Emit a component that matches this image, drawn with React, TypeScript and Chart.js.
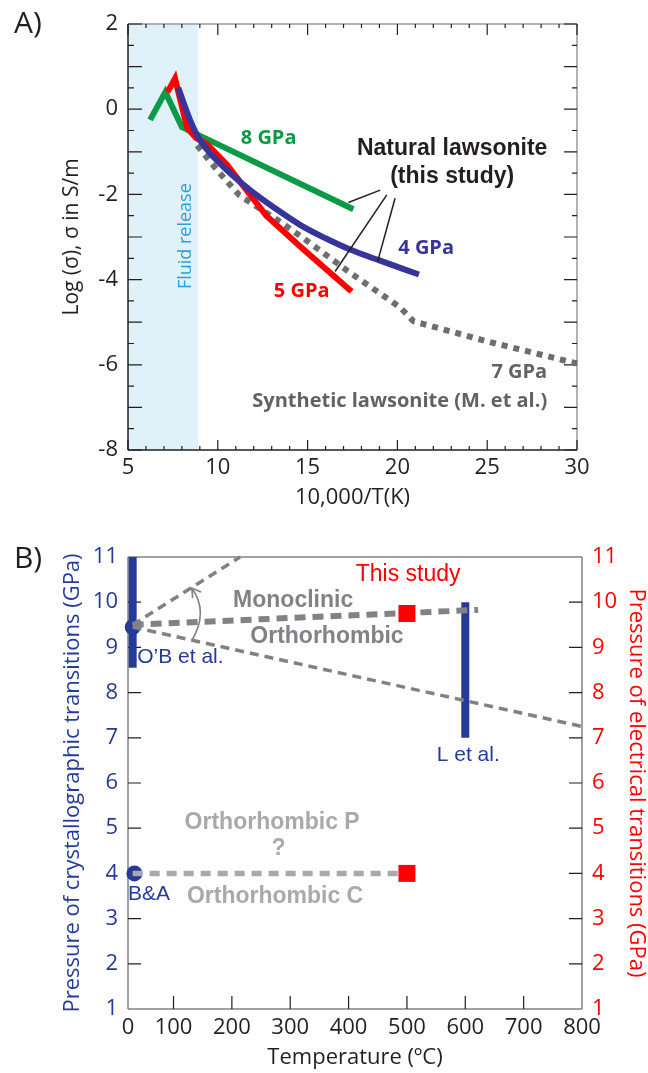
import React, { useEffect, useRef } from 'react';
import { Chart, registerables } from 'chart.js';

Chart.register(...registerables);

// ---------------- Panel A data ----------------
const A_X_LABELS = [5, 10, 15, 20, 25, 30];
const A_Y_LABELS = [2, 0, -2, -4, -6, -8];
const FLUID_RELEASE_X = [5, 8.9];

const GPA8_X = [6.23, 7.08, 8.0, 17.55];
const GPA8_Y = [-0.25, 0.4, -0.42, -2.35];

const GPA5_X = [7.2, 7.62, 8.3, 8.8, 9.4, 10.5, 11.6, 12.7, 14.6, 17.45];
const GPA5_Y = [0.4, 0.72, -0.45, -0.68, -0.82, -1.3, -1.9, -2.5, -3.23, -4.28];

const GPA4_X = [7.8, 8.45, 9.0, 10.3, 11.8, 13.1, 14.6, 16.0, 17.4, 19.0, 21.2];
const GPA4_Y = [0.5, -0.25, -0.72, -1.35, -1.9, -2.3, -2.72, -3.03, -3.3, -3.55, -3.88];

const GPA7_X = [8.85, 10.0, 11.2, 13.5, 15.0, 17.4, 20.15, 20.9, 25.0, 30.0];
const GPA7_Y = [-0.85, -1.45, -2.02, -2.65, -3.1, -3.85, -4.65, -4.98, -5.45, -5.97];

const LEADER_START_X = [19.04, 19.41, 19.87];
const LEADER_START_Y = [-1.9, -2.01, -2.09];
const LEADER_END_X = [17.27, 16.53, 18.91];
const LEADER_END_Y = [-2.19, -3.81, -3.56];

// ---------------- Panel B data ----------------
const B_T_MIN = 22;
const B_T_MAX = 800;
const B_X_LABELS = [0, 100, 200, 300, 400, 500, 600, 700, 800];
const B_Y_LABELS = [1, 2, 3, 4, 5, 6, 7, 8, 9, 10, 11];

const OB_T = [30, 30];
const OB_P = [8.55, 11];
const OB_POINT_T = [30];
const OB_POINT_P = [9.45];

const L_T = [600, 600];
const L_P = [7, 10];

const BA_POINT_T = [33];
const BA_POINT_P = [4.0];

const STUDY_T = [500, 500];
const STUDY_P = [9.75, 4.0];

const UPPER_T = [30, 214];
const UPPER_P = [9.5, 11];
const MONO_T = [30, 622];
const MONO_P = [9.5, 9.83];
const LOWER_T = [30, 800];
const LOWER_P = [9.45, 7.25];
const BA_LINE_T = [30, 500];
const BA_LINE_P = [4.0, 4.0];

const ARC_T = [131.5, 146, 131.5];
const ARC_P = [9.16, 9.76, 10.31];

// ---------------- styles ----------------
const INK = '#231f20';
const A_GREEN = '#0c9a47';
const A_RED = '#ff0000';
const A_BLUE = '#37349a';
const A_GRAY = '#6d6e71';
const A_LABEL_GRAY = '#616265';
const FLUID_BAND = '#dff2fa';
const FLUID_TEXT = '#2a9fd8';
const B_BLUE = '#263b95';
const B_RED = '#ff0000';
const B_GRAY = '#808285';
const B_LIGHT = '#a7a9ac';
const FRAME_GRAY = '#9a9a9a';

const SANS = '"Open Sans", sans-serif';
const HELV = '"Liberation Sans", Arial, sans-serif';

type Label = { text: string; x: number; y: number; font: string; color: string; align?: CanvasTextAlign; rotate?: number };

const A_TEXTS: Label[] = [
  { text: '8 GPa', x: 12.83, y: -0.68, font: `bold 20px ${SANS}`, color: A_GREEN },
  { text: 'Natural lawsonite', x: 23.05, y: -0.92, font: `bold 23px ${HELV}`, color: INK },
  { text: '(this study)', x: 23.05, y: -1.59, font: `bold 23px ${HELV}`, color: INK },
  { text: '4 GPa', x: 21.6, y: -3.26, font: `bold 20px ${SANS}`, color: A_BLUE },
  { text: '5 GPa', x: 14.67, y: -4.28, font: `bold 20px ${SANS}`, color: A_RED },
  { text: '7 GPa', x: 28.34, y: -6.18, font: `bold 20px ${SANS}`, color: A_LABEL_GRAY, align: 'right' },
  { text: 'Synthetic lawsonite (M. et al.)', x: 28.34, y: -6.85, font: `bold 20px ${SANS}`, color: A_LABEL_GRAY, align: 'right' },
  { text: 'Fluid release', x: 8.23, y: -2.98, font: `18px ${SANS}`, color: FLUID_TEXT, rotate: -Math.PI / 2 },
];

const B_TEXTS: Label[] = [
  { text: 'This study', x: 502, y: 10.6, font: `23px ${HELV}`, color: B_RED },
  { text: 'Monoclinic', x: 305, y: 10.03, font: `bold 23px ${HELV}`, color: B_GRAY },
  { text: 'Orthorhombic', x: 363, y: 9.23, font: `bold 23px ${HELV}`, color: B_GRAY },
  { text: 'O\u2019B et al.', x: 37.8, y: 8.79, font: `21px ${HELV}`, color: B_BLUE, align: 'left' },
  { text: 'L et al.', x: 605, y: 6.62, font: `21px ${HELV}`, color: B_BLUE },
  { text: 'B&A', x: 58, y: 3.55, font: `21px ${HELV}`, color: B_BLUE },
  { text: 'Orthorhombic P', x: 269, y: 5.12, font: `bold 23px ${HELV}`, color: B_LIGHT },
  { text: '?', x: 280, y: 4.55, font: `bold 23px ${HELV}`, color: B_LIGHT },
  { text: 'Orthorhombic C', x: 274, y: 3.49, font: `bold 23px ${HELV}`, color: B_LIGHT },
];

function steps(a: number, b: number, s: number): number[] {
  const out: number[] = [];
  for (let v = a; v <= b + 1e-9; v += s) out.push(Math.round(v * 1000) / 1000);
  return out;
}

function pts(xs: number[], ys: number[]) {
  return xs.map((x, i) => ({ x, y: ys[i] }));
}

function lineDs(label: string, xs: number[], ys: number[], color: string, width: number, dash: number[] = [], extra: any = {}) {
  return {
    label,
    data: pts(xs, ys),
    borderColor: color,
    backgroundColor: color,
    borderWidth: width,
    borderDash: dash,
    borderCapStyle: 'butt',
    borderJoinStyle: 'miter',
    pointRadius: 0,
    pointHoverRadius: 0,
    tension: 0,
    fill: false,
    clip: false,
    ...extra,
  };
}

function drawTicks(chart: any, axisId: string, side: string, values: number[], len: number, color: string, width: number) {
  const { ctx, chartArea: ca } = chart;
  const s = chart.scales[axisId];
  ctx.save();
  ctx.strokeStyle = color;
  ctx.lineWidth = width;
  ctx.beginPath();
  values.forEach((v) => {
    const p = s.getPixelForValue(v);
    if (side === 'bottom') { ctx.moveTo(p, ca.bottom); ctx.lineTo(p, ca.bottom - len); }
    if (side === 'top') { ctx.moveTo(p, ca.top); ctx.lineTo(p, ca.top + len); }
    if (side === 'left') { ctx.moveTo(ca.left, p); ctx.lineTo(ca.left + len, p); }
    if (side === 'right') { ctx.moveTo(ca.right, p); ctx.lineTo(ca.right - len, p); }
  });
  ctx.stroke();
  ctx.restore();
}

function drawFrame(chart: any, c: { top: string; right: string; bottom: string; left: string }, w: number) {
  const { ctx, chartArea: ca } = chart;
  ctx.save();
  ctx.lineWidth = w;
  const seg = (col: string, x1: number, y1: number, x2: number, y2: number) => {
    ctx.strokeStyle = col;
    ctx.beginPath();
    ctx.moveTo(x1, y1);
    ctx.lineTo(x2, y2);
    ctx.stroke();
  };
  seg(c.top, ca.left, ca.top, ca.right, ca.top);
  seg(c.right, ca.right, ca.top, ca.right, ca.bottom);
  seg(c.bottom, ca.left, ca.bottom, ca.right, ca.bottom);
  seg(c.left, ca.left, ca.top, ca.left, ca.bottom);
  ctx.restore();
}

function drawLabels(chart: any, xId: string, yId: string, labels: Label[]) {
  const { ctx } = chart;
  labels.forEach((l) => {
    const x = chart.scales[xId].getPixelForValue(l.x);
    const y = chart.scales[yId].getPixelForValue(l.y);
    ctx.save();
    ctx.translate(x, y);
    if (l.rotate) ctx.rotate(l.rotate);
    ctx.font = l.font;
    ctx.fillStyle = l.color;
    ctx.textAlign = l.align || 'center';
    ctx.textBaseline = 'middle';
    ctx.fillText(l.text, 0, 0);
    ctx.restore();
  });
}

function drawPanelLetter(chart: any, text: string, x: number, y: number) {
  const { ctx } = chart;
  ctx.save();
  ctx.font = `30px ${SANS}`;
  ctx.fillStyle = INK;
  ctx.textAlign = 'center';
  ctx.textBaseline = 'middle';
  ctx.fillText(text, x, y);
  ctx.restore();
}

const panelAPlugin = {
  id: 'panelA',
  beforeDatasetsDraw(chart: any) {
    const { ctx, chartArea: ca, scales } = chart;
    const x0 = scales.x.getPixelForValue(FLUID_RELEASE_X[0]);
    const x1 = scales.x.getPixelForValue(FLUID_RELEASE_X[1]);
    ctx.save();
    ctx.fillStyle = FLUID_BAND;
    ctx.fillRect(x0, ca.top, x1 - x0, ca.bottom - ca.top);
    ctx.restore();
    drawFrame(chart, { top: FRAME_GRAY, right: FRAME_GRAY, bottom: INK, left: INK }, 1.5);
    const xMajor = steps(5, 30, 5);
    const xMinor = steps(5, 30, 1).filter((v) => v % 5 !== 0);
    const yMajor = steps(-8, 2, 1);
    const yMinor = steps(-7.5, 1.5, 1);
    drawTicks(chart, 'x', 'bottom', xMajor, 10, INK, 1.2);
    drawTicks(chart, 'x', 'bottom', xMinor, 4, INK, 1.2);
    drawTicks(chart, 'x', 'top', xMajor, 11, INK, 1.2);
    drawTicks(chart, 'x', 'top', xMinor, 4, INK, 1.2);
    drawTicks(chart, 'y', 'left', yMajor, 14, INK, 1.2);
    drawTicks(chart, 'y', 'left', yMinor, 6, INK, 1.2);
    drawTicks(chart, 'y', 'right', yMajor, 13, INK, 1.2);
    drawTicks(chart, 'y', 'right', yMinor, 5, INK, 1.2);
  },
  afterDatasetsDraw(chart: any) {
    drawLabels(chart, 'x', 'y', A_TEXTS);
  },
  afterDraw(chart: any) {
    drawPanelLetter(chart, 'A)', 28, 24);
  },
};

const panelBPlugin = {
  id: 'panelB',
  beforeDatasetsDraw(chart: any) {
    drawFrame(chart, { top: B_GRAY, right: B_GRAY, bottom: B_GRAY, left: B_GRAY }, 1.5);
    drawTicks(chart, 'y', 'left', steps(2, 10, 1), 13, INK, 1.2);
    drawTicks(chart, 'y2', 'right', steps(2, 10, 1), 13, INK, 1.2);
    drawTicks(chart, 'x', 'bottom', steps(100, 700, 100), 13, INK, 1.2);
  },
  afterDatasetsDraw(chart: any) {
    const { ctx, scales } = chart;
    const px = ARC_T.map((t) => scales.x.getPixelForValue(t));
    const py = ARC_P.map((p) => scales.y.getPixelForValue(p));
    const cx = 2 * px[1] - (px[0] + px[2]) / 2;
    const cy = 2 * py[1] - (py[0] + py[2]) / 2;
    ctx.save();
    ctx.strokeStyle = B_GRAY;
    ctx.lineWidth = 1.6;
    ctx.beginPath();
    ctx.moveTo(px[0], py[0]);
    ctx.quadraticCurveTo(cx, cy, px[2], py[2]);
    ctx.stroke();
    const ang = Math.atan2(py[2] - cy, px[2] - cx);
    const L = 10;
    ctx.beginPath();
    ctx.moveTo(px[2] + L * Math.cos(ang + Math.PI - 0.55), py[2] + L * Math.sin(ang + Math.PI - 0.55));
    ctx.lineTo(px[2], py[2]);
    ctx.lineTo(px[2] + L * Math.cos(ang + Math.PI + 0.55), py[2] + L * Math.sin(ang + Math.PI + 0.55));
    ctx.stroke();
    ctx.restore();
    drawLabels(chart, 'x', 'y', B_TEXTS);
  },
  afterDraw(chart: any) {
    drawPanelLetter(chart, 'B)', 28, 39);
  },
};

function configA(): any {
  const leaders = LEADER_START_X.map((_, i) =>
    lineDs('leader' + i, [LEADER_START_X[i], LEADER_END_X[i]], [LEADER_START_Y[i], LEADER_END_Y[i]], INK, 1.5)
  );
  return {
    type: 'line',
    data: {
      datasets: [
        ...leaders,
        lineDs('4 GPa', GPA4_X, GPA4_Y, A_BLUE, 6, [], { tension: 0.4, cubicInterpolationMode: 'monotone' }),
        lineDs('5 GPa', GPA5_X, GPA5_Y, A_RED, 6),
        lineDs('8 GPa', GPA8_X, GPA8_Y, A_GREEN, 6),
        lineDs('7 GPa', GPA7_X, GPA7_Y, A_GRAY, 6, [6, 6]),
      ],
    },
    plugins: [panelAPlugin],
    options: {
      animation: false,
      responsive: false,
      maintainAspectRatio: false,
      devicePixelRatio: 1,
      events: [],
      layout: { padding: { left: 0, top: 24, right: 71, bottom: 0 } },
      plugins: { legend: { display: false }, tooltip: { enabled: false } },
      scales: {
        x: {
          type: 'linear',
          min: 5,
          max: 30,
          afterBuildTicks: (s: any) => { s.ticks = A_X_LABELS.map((v) => ({ value: v })); },
          afterFit: (s: any) => { s.height = 70; },
          grid: { display: false, drawTicks: false },
          border: { display: false },
          ticks: { font: { family: SANS, size: 22 }, color: INK, padding: 5, autoSkip: false, maxRotation: 0 },
          title: { display: true, text: '10,000/T(K)', color: INK, font: { family: SANS, size: 22, lineHeight: 1 }, padding: { top: 0, bottom: 11 } },
        },
        y: {
          type: 'linear',
          min: -8,
          max: 2,
          afterBuildTicks: (s: any) => { s.ticks = A_Y_LABELS.map((v) => ({ value: v })); },
          afterFit: (s: any) => { s.width = 128; },
          grid: { display: false, drawTicks: false },
          border: { display: false },
          ticks: { font: { family: SANS, size: 22 }, color: INK, padding: 10 },
          title: { display: true, text: 'Log (\u03c3), \u03c3 in S/m', color: INK, font: { family: SANS, size: 21, lineHeight: 1 }, padding: { top: 61.5, bottom: 0 } },
        },
      },
    },
  };
}

function configB(): any {
  return {
    type: 'line',
    data: {
      datasets: [
        {
          label: 'This study',
          data: pts(STUDY_T, STUDY_P),
          showLine: false,
          pointStyle: 'rect',
          pointRadius: 12,
          pointBorderWidth: 0,
          borderWidth: 0,
          pointBackgroundColor: B_RED,
          backgroundColor: B_RED,
          borderColor: B_RED,
          clip: false,
        },
        lineDs('upper', UPPER_T, UPPER_P, B_GRAY, 3.5, [9, 6]),
        lineDs('mono', MONO_T, MONO_P, B_GRAY, 6, [11, 7]),
        lineDs('lower', LOWER_T, LOWER_P, B_GRAY, 3.5, [9, 6]),
        lineDs('ba line', BA_LINE_T, BA_LINE_P, B_LIGHT, 5.5, [10, 7]),
        {
          label: 'points',
          data: [...pts(OB_POINT_T, OB_POINT_P), ...pts(BA_POINT_T, BA_POINT_P)],
          showLine: false,
          pointStyle: 'circle',
          pointRadius: 8,
          pointBorderWidth: 0,
          borderWidth: 0,
          pointBackgroundColor: B_BLUE,
          backgroundColor: B_BLUE,
          borderColor: B_BLUE,
          clip: false,
        },
        lineDs("O'B", OB_T, OB_P, B_BLUE, 8),
        lineDs('L', L_T, L_P, B_BLUE, 8),
      ],
    },
    plugins: [panelBPlugin],
    options: {
      animation: false,
      responsive: false,
      maintainAspectRatio: false,
      devicePixelRatio: 1,
      events: [],
      layout: { padding: { left: 0, top: 37, right: 0, bottom: 0 } },
      plugins: { legend: { display: false }, tooltip: { enabled: false } },
      scales: {
        x: {
          type: 'linear',
          min: B_T_MIN,
          max: B_T_MAX,
          afterBuildTicks: (s: any) => { s.ticks = B_X_LABELS.map((v) => ({ value: Math.max(v, B_T_MIN) })); },
          afterFit: (s: any) => { s.height = 64; },
          grid: { display: false, drawTicks: false },
          border: { display: false },
          ticks: {
            font: { family: SANS, size: 22 },
            color: INK,
            padding: 6,
            autoSkip: false,
            maxRotation: 0,
            callback: (v: number) => (v === B_T_MIN ? '0' : String(v)),
          },
          title: { display: true, text: 'Temperature (\u00baC)', color: INK, font: { family: SANS, size: 22, lineHeight: 1 }, padding: { top: 0, bottom: 4 } },
        },
        y: {
          type: 'linear',
          position: 'left',
          min: 1,
          max: 11,
          afterBuildTicks: (s: any) => { s.ticks = B_Y_LABELS.map((v) => ({ value: v })); },
          afterFit: (s: any) => { s.width = 128; },
          grid: { display: false, drawTicks: false },
          border: { display: false },
          ticks: { font: { family: SANS, size: 22 }, color: B_BLUE, padding: 10 },
          title: { display: true, text: 'Pressure of crystallographic transitions (GPa)', color: B_BLUE, font: { family: SANS, size: 22, lineHeight: 1 }, padding: { top: 61.5, bottom: 0 } },
        },
        y2: {
          type: 'linear',
          position: 'right',
          min: 1,
          max: 11,
          afterBuildTicks: (s: any) => { s.ticks = B_Y_LABELS.map((v) => ({ value: v })); },
          afterFit: (s: any) => { s.width = 66; },
          grid: { display: false, drawTicks: false },
          border: { display: false },
          ticks: { font: { family: SANS, size: 22 }, color: B_RED, padding: 10 },
          title: { display: true, text: 'Pressure of electrical transitions (GPa)', color: B_RED, font: { family: SANS, size: 22, lineHeight: 1 }, padding: { top: 1, bottom: 0 } },
        },
      },
    },
  };
}

export default function App() {
  const refA = useRef<HTMLCanvasElement>(null);
  const refB = useRef<HTMLCanvasElement>(null);

  useEffect(() => {
    const charts: Chart[] = [];
    charts.push(new Chart(refA.current as HTMLCanvasElement, configA()));
    charts.push(new Chart(refB.current as HTMLCanvasElement, configB()));
    let alive = true;
    const fonts = [`22px ${SANS}`, `bold 20px ${SANS}`, `23px ${HELV}`, `bold 23px ${HELV}`];
    if ((document as any).fonts && (document as any).fonts.load) {
      Promise.all(fonts.map((f) => (document as any).fonts.load(f).catch(() => null))).then(() => {
        if (alive) charts.forEach((c) => c.update());
      });
    }
    return () => {
      alive = false;
      charts.forEach((c) => c.destroy());
    };
  }, []);

  return (
    <div style={{ position: 'absolute', left: 0, top: 0, width: 648, height: 1073, background: '#ffffff' }}>
      <canvas ref={refA} width={648} height={520} style={{ position: 'absolute', left: 0, top: 0, width: 648, height: 520 }} />
      <canvas ref={refB} width={648} height={553} style={{ position: 'absolute', left: 0, top: 520, width: 648, height: 553 }} />
    </div>
  );
}
